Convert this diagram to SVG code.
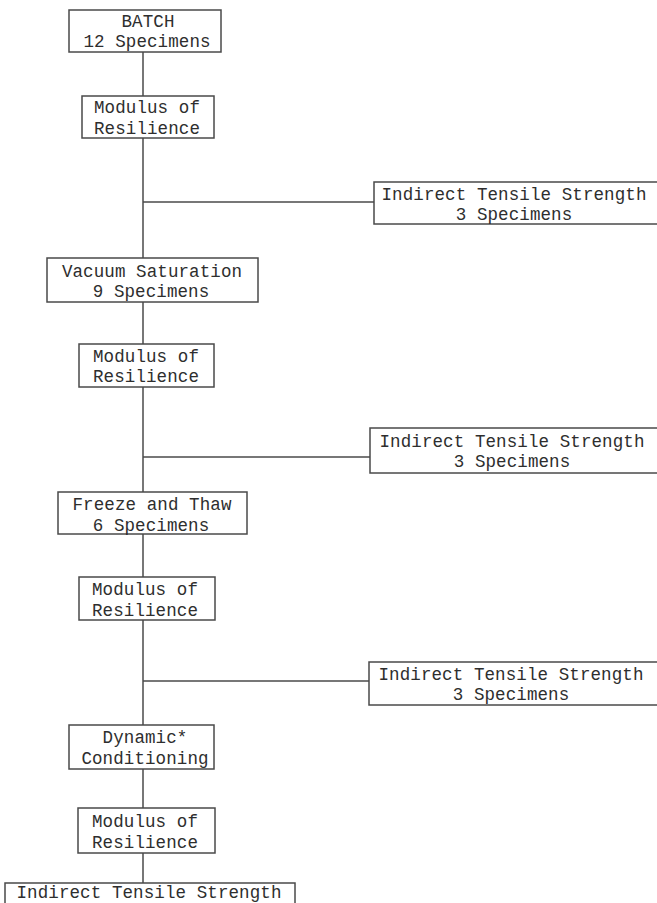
<svg xmlns="http://www.w3.org/2000/svg" width="657" height="903" viewBox="0 0 657 903">
<style>
.box{fill:#fff;stroke:#4a4a4a;stroke-width:1.5}
.t{font-family:"Liberation Mono","Courier New",monospace;font-size:17.5px;letter-spacing:0.1px;fill:#2e2e2e;text-anchor:middle}
.c{stroke:#4a4a4a;stroke-width:1.5;fill:none}
</style>
<rect width="657" height="903" fill="#fff"/>
<g id="connectors">
<line class="c" x1="143" y1="52" x2="143" y2="96"/>
<line class="c" x1="143" y1="138" x2="143" y2="258"/>
<line class="c" x1="143" y1="202" x2="374" y2="202"/>
<line class="c" x1="143" y1="302" x2="143" y2="344"/>
<line class="c" x1="143" y1="387" x2="143" y2="492"/>
<line class="c" x1="143" y1="457" x2="370" y2="457"/>
<line class="c" x1="143" y1="534" x2="143" y2="577"/>
<line class="c" x1="143" y1="620" x2="143" y2="725"/>
<line class="c" x1="143" y1="681" x2="369" y2="681"/>
<line class="c" x1="143" y1="769" x2="143" y2="808"/>
<line class="c" x1="143" y1="853" x2="143" y2="883"/>
</g>
<g id="batch">
<rect class="box" x="69" y="10" width="152" height="42"/>
<text class="t" x="148" y="27">BATCH</text>
<text class="t" x="147" y="47">12 Specimens</text>
</g>
<g id="mr1">
<rect class="box" x="82" y="96" width="132" height="42"/>
<text class="t" x="147" y="113">Modulus of</text>
<text class="t" x="147" y="134">Resilience</text>
</g>
<g id="its1">
<rect class="box" x="374" y="182" width="310" height="42"/>
<text class="t" x="514" y="200">Indirect Tensile Strength</text>
<text class="t" x="514" y="220">3 Specimens</text>
</g>
<g id="vacuum">
<rect class="box" x="47" y="258" width="211" height="44"/>
<text class="t" x="152" y="277">Vacuum Saturation</text>
<text class="t" x="151" y="297">9 Specimens</text>
</g>
<g id="mr2">
<rect class="box" x="79" y="344" width="135" height="43"/>
<text class="t" x="146" y="362">Modulus of</text>
<text class="t" x="146" y="382">Resilience</text>
</g>
<g id="its2">
<rect class="box" x="370" y="428" width="314" height="45"/>
<text class="t" x="512" y="447">Indirect Tensile Strength</text>
<text class="t" x="512" y="467">3 Specimens</text>
</g>
<g id="freeze">
<rect class="box" x="58" y="492" width="189" height="42"/>
<text class="t" x="152" y="510">Freeze and Thaw</text>
<text class="t" x="151" y="531">6 Specimens</text>
</g>
<g id="mr3">
<rect class="box" x="79" y="577" width="136" height="43"/>
<text class="t" x="145" y="595">Modulus of</text>
<text class="t" x="145" y="616">Resilience</text>
</g>
<g id="its3">
<rect class="box" x="369" y="662" width="315" height="43"/>
<text class="t" x="511" y="680">Indirect Tensile Strength</text>
<text class="t" x="511" y="700">3 Specimens</text>
</g>
<g id="dynamic">
<rect class="box" x="69" y="725" width="145" height="44"/>
<text class="t" x="145" y="743">Dynamic*</text>
<text class="t" x="145" y="764">Conditioning</text>
</g>
<g id="mr4">
<rect class="box" x="78" y="808" width="137" height="45"/>
<text class="t" x="145" y="827">Modulus of</text>
<text class="t" x="145" y="848">Resilience</text>
</g>
<g id="its4">
<rect class="box" x="5" y="883" width="290" height="40"/>
<text class="t" x="149" y="898">Indirect Tensile Strength</text>
</g>
</svg>
